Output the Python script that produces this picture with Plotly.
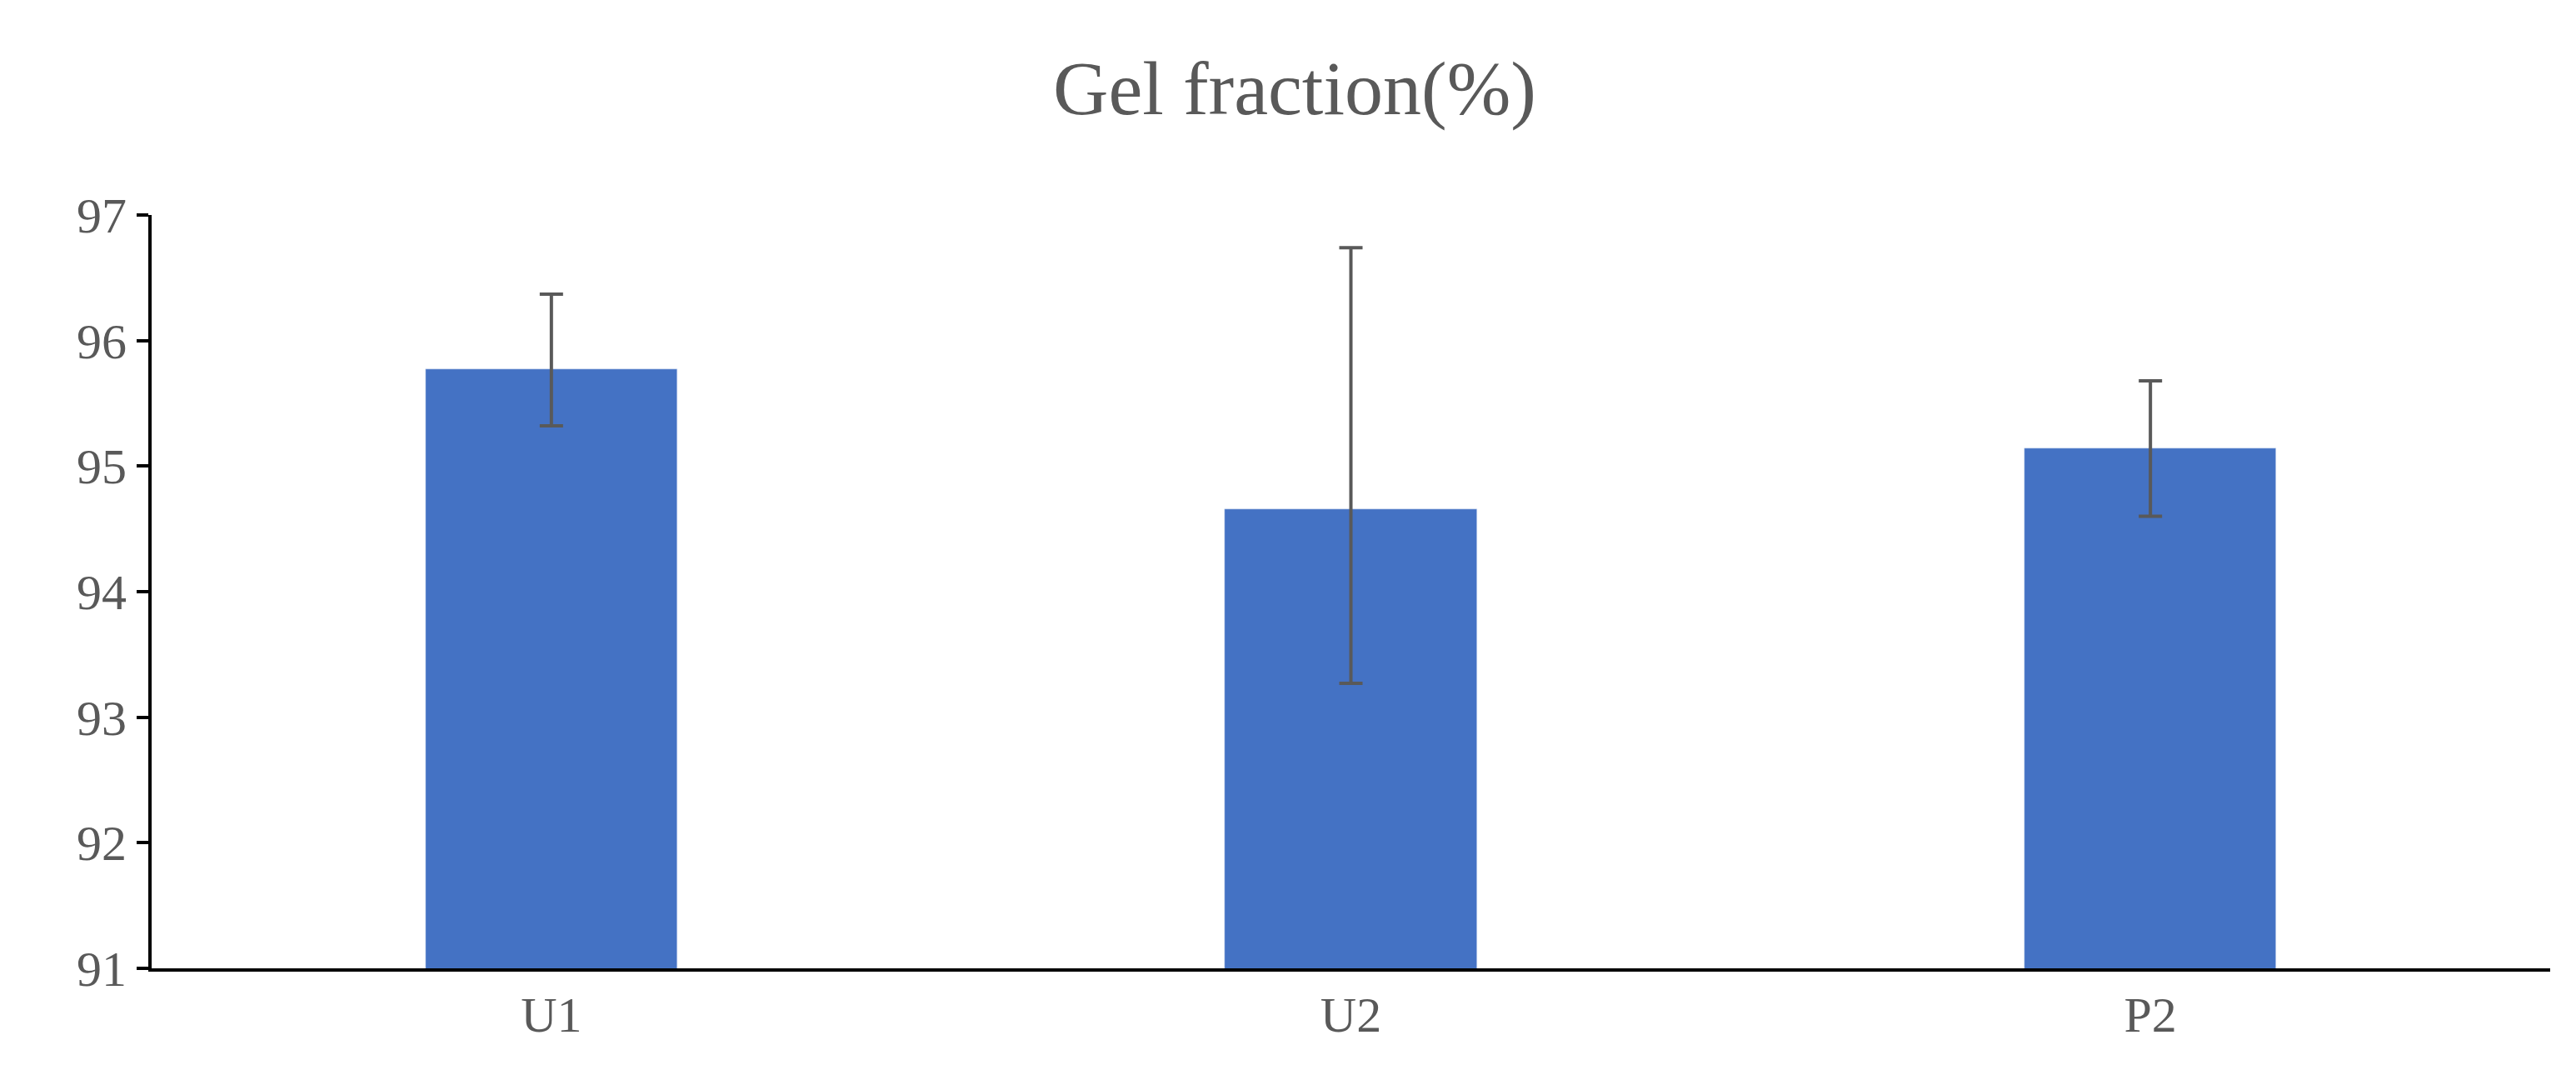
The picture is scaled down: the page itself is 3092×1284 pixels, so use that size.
import plotly.graph_objects as go

categories = ["U1", "U2", "P2"]
values = [95.77, 94.66, 95.14]
err_plus = [0.60, 2.08, 0.54]
err_minus = [0.45, 1.39, 0.54]

fig = go.Figure(go.Bar(
    x=categories, y=values, width=0.315, marker_color="#4472C4",
    error_y=dict(type="data", symmetric=False, array=err_plus, arrayminus=err_minus,
                 color="#595959", thickness=4, width=14),
))
fig.update_layout(
    width=3092, height=1284, plot_bgcolor="white", paper_bgcolor="white",
    margin=dict(l=174, r=39, t=250, b=130),
    title=dict(text="Gel fraction(%)", x=0.5, xanchor="center", y=0.925, yanchor="middle",
               font=dict(family="Liberation Serif", size=92, color="#595959")),
    font=dict(family="Liberation Serif", size=60, color="#595959"),
    showlegend=False, bargap=0,
)
fig.update_yaxes(range=[91, 97], dtick=1, showgrid=False, showline=True, linecolor="black",
                 linewidth=4, ticks="outside", ticklen=14, tickwidth=4, tickcolor="black")
fig.update_xaxes(showline=True, linecolor="black", linewidth=4, ticks="", showgrid=False)
fig.write_html("out.html")
